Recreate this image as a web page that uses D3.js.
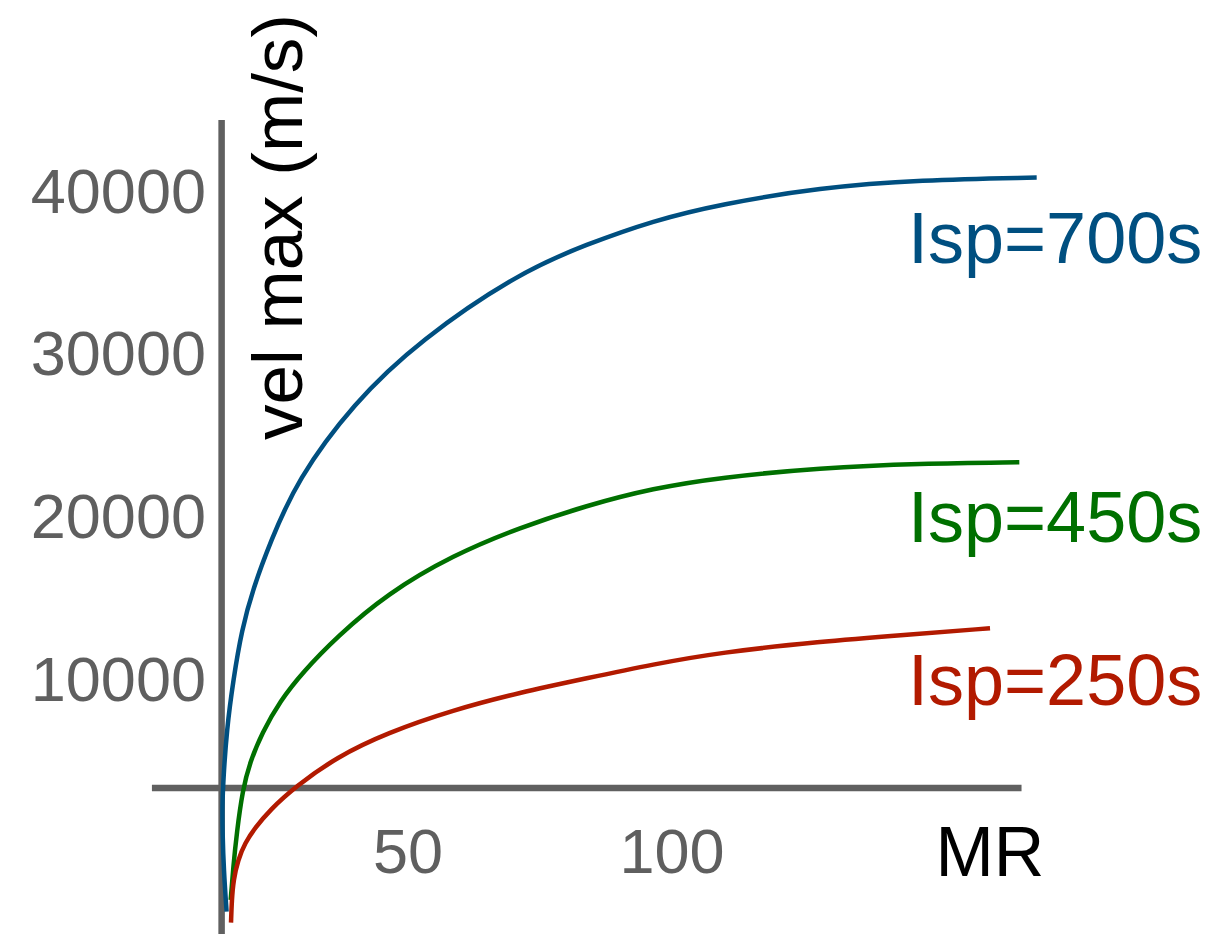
<!DOCTYPE html>
<html>
<head>
<meta charset="utf-8">
<script src="https://cdn.jsdelivr.net/npm/d3@7"></script>
<style>
  body { margin: 0; background: #fff; }
  svg { display: block; font-family: "Liberation Sans", Arial, Helvetica, sans-serif; }
</style>
</head>
<body>
<script>

// [MR, vel max m/s]
const isp700 = [[15.64,-4365],[15.11,-1801],[14.87,473],[14.83,2195],[15.02,3732],[15.66,6806],[16.91,9880],[18.5,12954],[20.7,15536],[23.86,18303],[28.98,22176],[39.64,26891],[52.27,30783],[71.21,34946],[83.85,36666],[96.46,38118],[109.09,39126],[128.03,40146],[146.97,40620],[169.07,40761]];
const isp450 = [[16.42,-3646],[16.91,-1598],[17.56,455],[18.66,3100],[20.08,4838],[22.35,6621],[25.76,8589],[30.11,10372],[36.5,12524],[45.97,15168],[58.58,17565],[71.21,19256],[83.85,20608],[96.46,21666],[109.09,22330],[128.03,22914],[146.97,23190],[165.78,23264]];
const isp250 = [[16.48,-5041],[16.63,-3646],[16.95,-2416],[17.8,-1186],[19.13,-141],[21.02,781],[23.86,1887],[28.6,3302],[36.5,5146],[45.97,6621],[58.52,8035],[71.21,9111],[83.85,9984],[96.46,10845],[109.09,11570],[128.03,12235],[143.81,12647],[160.23,13058]];

const seriesNames = ["Isp=700s", "Isp=450s", "Isp=250s"];
const seriesColors = ["#004f80", "#007000", "#b21a00"];
const xTicks = [50, 100];
const yTicks = [10000, 20000, 30000, 40000];

const W = 1219;
const H = 934;

const origin = [14.7, 3240];
const xAxisExtent = [1.5, 166.2];
const yAxisExtent = [-5800, 44300];

const x = d3.scaleLinear().domain([50, 100]).range([408, 672]);
const y = d3.scaleLinear().domain([10000, 40000]).range([678, 190]);

const svg = d3.select("body").append("svg")
  .attr("width", W)
  .attr("height", H);

const axisColor = "#606060";

// axes
svg.append("line")
  .attr("x1", x(xAxisExtent[0]))
  .attr("x2", x(xAxisExtent[1]))
  .attr("y1", y(origin[1]))
  .attr("y2", y(origin[1]))
  .attr("stroke", axisColor)
  .attr("stroke-width", 6.5);

svg.append("line")
  .attr("x1", x(origin[0]))
  .attr("x2", x(origin[0]))
  .attr("y1", y(yAxisExtent[0]))
  .attr("y2", y(yAxisExtent[1]))
  .attr("stroke", axisColor)
  .attr("stroke-width", 6.5);

// tick labels
svg.selectAll(".ylab")
  .data(yTicks)
  .enter()
  .append("text")
  .attr("class", "ylab")
  .attr("x", 206)
  .attr("y", d => y(d) + 22.5)
  .attr("text-anchor", "end")
  .attr("fill", "#5f5f5f")
  .style("font-size", "63px")
  .text(d => d);

svg.selectAll(".xlab")
  .data(xTicks)
  .enter()
  .append("text")
  .attr("class", "xlab")
  .attr("x", d => x(d))
  .attr("y", 873)
  .attr("text-anchor", "middle")
  .attr("fill", "#5f5f5f")
  .style("font-size", "63px")
  .text(d => d);

svg.append("text")
  .text("MR")
  .attr("x", 990)
  .attr("y", 876)
  .attr("text-anchor", "middle")
  .attr("fill", "#000")
  .style("font-size", "70px");

svg.append("text")
  .text("vel max (m/s)")
  .attr("transform", "translate(302, 440) rotate(-90)")
  .attr("fill", "#000")
  .style("font-size", "71px");

// curves
const line = d3.line()
  .x(d => x(d[0]))
  .y(d => y(d[1]))
  .curve(d3.curveBasis);

const series = [isp700, isp450, isp250];

svg.selectAll(".curve")
  .data(series)
  .enter()
  .append("path")
  .attr("class", "curve")
  .attr("d", line)
  .attr("fill", "none")
  .attr("stroke", (d, i) => seriesColors[i])
  .attr("stroke-width", 4.5);

const labelBase = [263, 542, 705];

svg.selectAll(".slab")
  .data(seriesNames)
  .enter()
  .append("text")
  .attr("class", "slab")
  .attr("x", 908)
  .attr("y", (d, i) => labelBase[i])
  .attr("fill", (d, i) => seriesColors[i])
  .style("font-size", "72px")
  .text(d => d);

</script>
</body>
</html>
